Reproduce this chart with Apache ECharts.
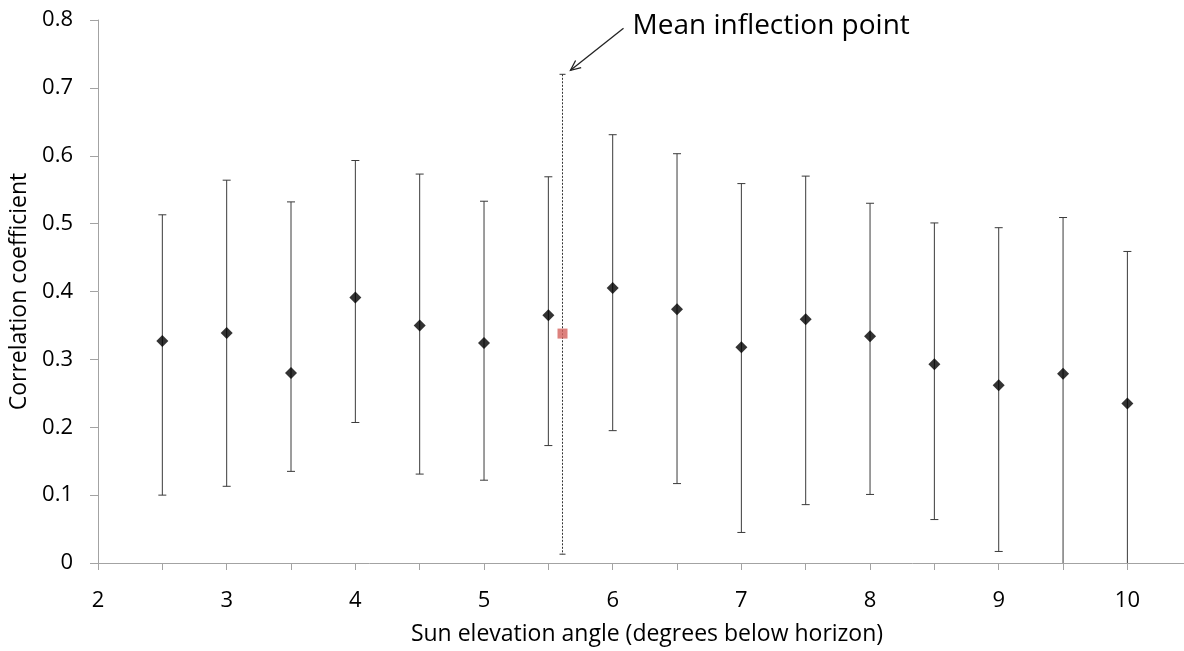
<!DOCTYPE html>
<html>
<head>
<meta charset="utf-8">
<script src="https://cdn.jsdelivr.net/npm/echarts@6/dist/echarts.min.js"></script>
<style>
  html, body { margin: 0; padding: 0; background: #fff; }
  #chart { width: 1184px; height: 651px; }
</style>
</head>
<body>
<div id="chart"></div>
<script>
// Sun elevation angle (degrees below horizon) for each sample
const angles = [2.5, 3, 3.5, 4, 4.5, 5, 5.5, 6, 6.5, 7, 7.5, 8, 8.5, 9, 9.5, 10];
// Mean correlation coefficient at each angle
const corr = [0.327, 0.339, 0.280, 0.391, 0.350, 0.324, 0.365, 0.405, 0.374, 0.318, 0.359, 0.334, 0.293, 0.262, 0.279, 0.235];
// Upper and lower ends of the error bars
const upper = [0.513, 0.564, 0.532, 0.593, 0.573, 0.533, 0.569, 0.631, 0.603, 0.559, 0.570, 0.530, 0.501, 0.494, 0.509, 0.459];
const lower = [0.100, 0.113, 0.135, 0.207, 0.131, 0.122, 0.173, 0.195, 0.117, 0.045, 0.086, 0.101, 0.064, 0.017, -0.030, -0.030];

// Mean inflection point with its range
const inflectionAngle = 5.61;
const inflectionCorr = 0.338;
const inflectionUpper = 0.720;
const inflectionLower = 0.013;
const inflectionLabel = 'Mean inflection point';

const xRange = [2, 10.44];
const yTicks = [0, 0.1, 0.2, 0.3, 0.4, 0.5, 0.6, 0.7, 0.8];
const xTitle = 'Sun elevation angle (degrees below horizon)';
const yTitle = 'Correlation coefficient';

const FONT = '"Open Sans", "Noto Sans", sans-serif';
const AXIS_COLOR = '#a3a3a3';

function errorBarRenderer(color, dash, capHalf) {
  return function (params, api) {
    const x = api.value(0);
    const lo = api.value(1);
    const hi = api.value(2);
    const top = api.coord([x, hi]);
    const bot = api.coord([x, lo]);
    const style = { stroke: color, lineWidth: 1, lineDash: dash };
    return {
      type: 'group',
      children: [
        { type: 'line', shape: { x1: top[0], y1: top[1], x2: bot[0], y2: bot[1] }, style: style },
        { type: 'line', shape: { x1: top[0] - capHalf, y1: top[1], x2: top[0] + capHalf, y2: top[1] }, style: { stroke: color, lineWidth: 1 } },
        { type: 'line', shape: { x1: bot[0] - capHalf, y1: bot[1], x2: bot[0] + capHalf, y2: bot[1] }, style: { stroke: color, lineWidth: 1 } }
      ]
    };
  };
}

const chart = echarts.init(document.getElementById('chart'), null, { renderer: 'canvas' });

chart.setOption({
  animation: false,
  backgroundColor: '#ffffff',
  textStyle: { fontFamily: FONT },
  grid: { left: 98, right: 0, top: 20, bottom: 87, containLabel: false },
  xAxis: {
    type: 'value',
    min: xRange[0],
    max: xRange[1],
    interval: 0.5,
    name: xTitle,
    nameLocation: 'middle',
    nameGap: 60,
    nameTextStyle: { fontFamily: FONT, fontSize: 23, color: '#000', padding: [0, 0, 0, 12] },
    axisLine: { show: true, onZero: false, lineStyle: { color: AXIS_COLOR, width: 1 } },
    axisTick: { show: true, inside: false, length: 7, lineStyle: { color: AXIS_COLOR } },
    axisLabel: {
      fontFamily: FONT, fontSize: 22, color: '#000', margin: 27,
      showMaxLabel: false,
      formatter: v => (Math.abs(v - Math.round(v)) < 1e-9 ? String(Math.round(v)) : '')
    },
    splitLine: { show: false }
  },
  yAxis: {
    type: 'value',
    min: yTicks[0],
    max: yTicks[yTicks.length - 1],
    interval: 0.1,
    name: yTitle,
    nameLocation: 'middle',
    nameGap: 62,
    nameTextStyle: { fontFamily: FONT, fontSize: 23, color: '#000' },
    axisLine: { show: true, lineStyle: { color: AXIS_COLOR, width: 1 } },
    axisTick: { show: true, inside: false, length: 8, lineStyle: { color: AXIS_COLOR } },
    axisLabel: {
      fontFamily: FONT, fontSize: 22, color: '#000', margin: 25,
      formatter: v => (v === 0 ? '0' : v.toFixed(1))
    },
    splitLine: { show: false }
  },
  series: [
    {
      type: 'custom',
      name: 'range',
      clip: true,
      z: 2,
      renderItem: errorBarRenderer('#3a3a3a', null, 4),
      encode: { x: 0, y: [1, 2] },
      data: angles.map((a, i) => [a, lower[i], upper[i]])
    },
    {
      type: 'custom',
      name: 'inflection range',
      clip: true,
      z: 2,
      renderItem: errorBarRenderer('#333333', [2, 1.5], 3),
      encode: { x: 0, y: [1, 2] },
      data: [[inflectionAngle, inflectionLower, inflectionUpper]]
    },
    {
      type: 'scatter',
      name: 'correlation',
      z: 4,
      symbol: 'diamond',
      symbolSize: [12, 12],
      itemStyle: { color: '#000000' },
      data: angles.map((a, i) => [a, corr[i]])
    },
    {
      type: 'scatter',
      name: 'inflection',
      z: 4,
      symbol: 'rect',
      symbolSize: 10,
      itemStyle: { color: '#d4625c' },
      data: [[inflectionAngle, inflectionCorr]]
    }
  ]
});

// Callout arrow pointing at the top of the inflection range
const tipBase = chart.convertToPixel({ gridIndex: 0 }, [inflectionAngle, inflectionUpper]);
const tip = [tipBase[0] + 8, tipBase[1] - 4];
const tail = [tipBase[0] + 61, tipBase[1] - 46];
const dx = tail[0] - tip[0], dy = tail[1] - tip[1];
const len = Math.sqrt(dx * dx + dy * dy);
const ux = dx / len, uy = dy / len;
const headLen = 11, spread = 0.42;
function rot(x, y, a) { return [x * Math.cos(a) - y * Math.sin(a), x * Math.sin(a) + y * Math.cos(a)]; }
const w1 = rot(ux, uy, spread), w2 = rot(ux, uy, -spread);

chart.setOption({
  graphic: [
    {
      type: 'line', silent: true,
      shape: { x1: tail[0], y1: tail[1], x2: tip[0], y2: tip[1] },
      style: { stroke: '#222', lineWidth: 1.3 }
    },
    {
      type: 'polyline', silent: true,
      shape: { points: [[tip[0] + w1[0] * headLen, tip[1] + w1[1] * headLen], tip, [tip[0] + w2[0] * headLen, tip[1] + w2[1] * headLen]] },
      style: { stroke: '#222', lineWidth: 1.3, fill: null }
    },
    {
      type: 'text', silent: true,
      x: tail[0] + 9, y: tail[1] - 2,
      style: {
        text: inflectionLabel,
        fontFamily: FONT, fontSize: 28, fill: '#000',
        textAlign: 'left', textVerticalAlign: 'middle'
      }
    }
  ]
});
</script>
</body>
</html>
